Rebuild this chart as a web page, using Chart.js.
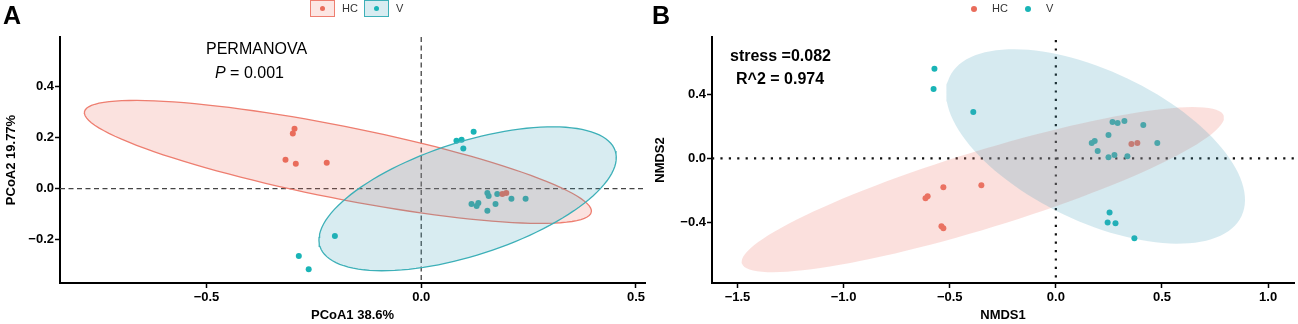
<!DOCTYPE html>
<html>
<head>
<meta charset="utf-8">
<script src="https://cdn.jsdelivr.net/npm/chart.js@4"></script>
<style>
  body { margin: 0; background: #fff; font-family: "Liberation Sans", Arial, sans-serif; }
  #wrap { position: relative; width: 1298px; height: 324px; overflow: hidden; }
  canvas { position: absolute; top: 0; }
  .lbl { position: absolute; white-space: nowrap; color: #000; line-height: 1; }
  .key { position: absolute; box-sizing: border-box; }
  .dot { position: absolute; border-radius: 50%; }
</style>
</head>
<body>
<div id="wrap">
  <canvas id="pcoa" width="649" height="324" style="left:0"></canvas>
  <canvas id="nmds" width="649" height="324" style="left:649px"></canvas>
  <div class="lbl" style="left:3px;top:3px;font-size:25px;font-weight:bold">A</div>
  <div class="lbl" style="left:652px;top:3px;font-size:25px;font-weight:bold">B</div>
  <div class="lbl" style="left:206px;top:41px;font-size:16px">PERMANOVA</div>
  <div class="lbl" style="left:215px;top:65px;font-size:16px"><i>P</i> = 0.001</div>
  <div class="lbl" style="left:730px;top:48px;font-size:16px;font-weight:bold">stress =0.082</div>
  <div class="lbl" style="left:736px;top:71px;font-size:16px;font-weight:bold">R^2 = 0.974</div>
  <div id="legA"></div>
  <div id="legB"></div>
</div>
<script>
// groups
const groups = ['HC', 'V'];
const pointColors = ['#E96C5B', '#19B4B6'];

// panel A: PCoA coordinates [PCoA1, PCoA2]
const pcoaHC = [[-0.295, 0.234], [-0.299, 0.215], [-0.316, 0.112], [-0.292, 0.097], [-0.220, 0.101],
  [0.189, -0.021], [0.198, -0.017]];
const pcoaV = [[0.082, 0.187], [0.094, 0.191], [0.122, 0.222], [0.098, 0.156], [0.154, -0.017],
  [0.157, -0.029], [0.177, -0.021], [0.210, -0.040], [0.243, -0.040], [0.117, -0.060],
  [0.129, -0.068], [0.133, -0.056], [0.154, -0.087], [0.173, -0.060], [-0.201, -0.185],
  [-0.285, -0.264], [-0.262, -0.315]];
// 95% ellipses: centre and two conjugate semi-axes, data units
const pcoaEllHC = { c: [-0.194, 0.104], u: [0.590, -0.196], v: [-0.0162, -0.1389] };
const pcoaEllV = { c: [0.108, -0.040], u: [0.3438, 0.1863], v: [0.0402, -0.2106] };
const pcoaXTicks = [-0.5, 0, 0.5];
const pcoaYTicks = [-0.2, 0, 0.2, 0.4];

// panel B: NMDS coordinates [NMDS1, NMDS2]
const nmdsHC = [[0.356, 0.090], [0.384, 0.096], [-0.351, -0.168], [-0.530, -0.181], [-0.614, -0.250],
  [-0.604, -0.237], [-0.539, -0.426], [-0.530, -0.438]];
const nmdsV = [[-0.572, 0.562], [-0.576, 0.436], [-0.389, 0.291], [0.267, 0.228], [0.291, 0.222],
  [0.323, 0.235], [0.412, 0.209], [0.248, 0.147], [0.169, 0.096], [0.183, 0.109], [0.478, 0.096],
  [0.197, 0.046], [0.248, 0.008], [0.276, 0.021], [0.337, 0.014], [0.253, -0.339], [0.244, -0.402],
  [0.281, -0.407], [0.370, -0.501]];
const nmdsEllHC = { c: [-0.344, -0.196], u: [1.135, 0.4635], v: [0.0526, -0.232] };
const nmdsEllV = { c: [0.187, 0.075], u: [0.688, -0.436], v: [-0.150, -0.427] };
const nmdsXTicks = [-1.5, -1.0, -0.5, 0, 0.5, 1.0];
const nmdsYTicks = [-0.4, 0, 0.4];

function ellipse(e) {
  const pts = [];
  for (let i = 0; i <= 120; i++) {
    const t = i / 120 * Math.PI * 2;
    pts.push({ x: e.c[0] + Math.cos(t) * e.u[0] + Math.sin(t) * e.v[0],
               y: e.c[1] + Math.cos(t) * e.u[1] + Math.sin(t) * e.v[1] });
  }
  return pts;
}
const toXY = arr => arr.map(p => ({ x: p[0], y: p[1] }));
const fmt = v => (v < 0 ? '\u2212' : '') + Math.abs(v).toFixed(1);

// dashed / dotted lines through the origin
const zeroLines = {
  id: 'zeroLines',
  beforeDatasetsDraw(chart, args, o) {
    const { ctx, chartArea: a, scales: { x, y } } = chart;
    const px = x.getPixelForValue(0), py = y.getPixelForValue(0);
    ctx.save();
    ctx.strokeStyle = o.color;
    ctx.lineWidth = o.width;
    ctx.setLineDash(o.dash);
    ctx.beginPath();
    ctx.moveTo(px, a.top + o.gap); ctx.lineTo(px, a.bottom);
    ctx.moveTo(a.left, py); ctx.lineTo(a.right, py);
    ctx.stroke();
    ctx.restore();
  }
};

function scales(xr, yr, xt, yt, xTitle, yTitle, yWidth) {
  const axisFont = { family: '"Liberation Sans", Arial', size: 13, weight: 'bold' };
  const common = {
    type: 'linear',
    border: { color: '#000', width: 2 },
    grid: { drawOnChartArea: false, tickLength: 5, tickColor: '#000', tickWidth: 1.5 },
  };
  return {
    x: Object.assign({}, common, {
      min: xr[0], max: xr[1],
      afterBuildTicks: s => { s.ticks = xt.map(v => ({ value: v })); },
      afterFit: s => { s.height = 41; },
      ticks: { color: '#000', font: axisFont, padding: 2, maxRotation: 0, callback: fmt },
      title: { display: true, text: xTitle, color: '#000', font: axisFont, padding: { top: 0, bottom: 1 } }
    }),
    y: Object.assign({}, common, {
      min: yr[0], max: yr[1],
      afterBuildTicks: s => { s.ticks = yt.map(v => ({ value: v })); },
      afterFit: s => { s.width = yWidth; },
      ticks: { color: '#000', font: axisFont, padding: 1, callback: fmt },
      title: { display: true, text: yTitle, color: '#000', font: axisFont, padding: { top: 4, bottom: 0 } }
    })
  };
}

// ellipses are drawn over the points (lower order = drawn later), V on top of HC
function makeChart(id, hc, v, ellHC, ellV, ellStyle, sc, lines) {
  const ellSet = (e, i) => Object.assign({
    data: ellipse(e), showLine: true, fill: 'shape', pointRadius: 0, tension: 0, order: 1 - i
  }, ellStyle[i]);
  new Chart(document.getElementById(id), {
    type: 'scatter',
    data: {
      datasets: [
        { label: groups[0], data: toXY(hc), backgroundColor: pointColors[0], borderWidth: 0, pointRadius: 3, order: 5 },
        { label: groups[1], data: toXY(v), backgroundColor: pointColors[1], borderWidth: 0, pointRadius: 3, order: 5 },
        ellSet(ellHC, 0),
        ellSet(ellV, 1)
      ]
    },
    options: {
      responsive: false,
      animation: false,
      layout: { padding: { top: 37, right: 2, bottom: 0, left: 0 } },
      plugins: { legend: { display: false }, tooltip: { enabled: false }, zeroLines: lines },
      scales: sc
    },
    plugins: [zeroLines]
  });
}

makeChart('pcoa', pcoaHC, pcoaV, pcoaEllHC, pcoaEllV, [
    { borderColor: '#EE7E70', borderWidth: 1.3, backgroundColor: 'rgba(235,110,95,0.2)' },
    { borderColor: '#3DB0B8', borderWidth: 1.3, backgroundColor: 'rgba(60,160,185,0.2)' }
  ],
  scales([-0.841, 0.521], [-0.369, 0.592], pcoaXTicks, pcoaYTicks, 'PCoA1 38.6%', 'PCoA2 19.77%', 60),
  { color: '#444', width: 1.3, dash: [5, 3.5], gap: 0 });

makeChart('nmds', nmdsHC, nmdsV, nmdsEllHC, nmdsEllV, [
    { borderWidth: 0, borderColor: 'rgba(0,0,0,0)', backgroundColor: 'rgba(240,130,120,0.25)' },
    { borderWidth: 0, borderColor: 'rgba(0,0,0,0)', backgroundColor: 'rgba(70,160,185,0.22)' }
  ],
  scales([-1.62, 1.122], [-0.782, 0.762], nmdsXTicks, nmdsYTicks, 'NMDS1', 'NMDS2', 63),
  { color: '#111', width: 2.2, dash: [2.2, 6.2], gap: 3 });

// legends
const legA = document.getElementById('legA');
const boxA = [[310, 'rgba(240,128,115,0.2)', '#EE7E70'], [364, 'rgba(60,160,185,0.2)', '#3DB0B8']];
groups.forEach((g, i) => {
  const [x, fill, edge] = boxA[i];
  legA.insertAdjacentHTML('beforeend',
    `<div class="key" style="left:${x}px;top:0;width:25px;height:17px;background:${fill};border:1.5px solid ${edge}"></div>` +
    `<div class="dot" style="left:${x + 10}px;top:6px;width:5px;height:5px;background:${pointColors[i]}"></div>` +
    `<div class="lbl" style="left:${x + 32}px;top:3px;font-size:11px;color:#333">${g}</div>`);
});
const legB = document.getElementById('legB');
[971, 1025].forEach((x, i) => {
  legB.insertAdjacentHTML('beforeend',
    `<div class="dot" style="left:${x}px;top:6px;width:6px;height:6px;background:${pointColors[i]}"></div>` +
    `<div class="lbl" style="left:${x + 21}px;top:3px;font-size:11px;color:#333">${groups[i]}</div>`);
});
</script>
</body>
</html>
